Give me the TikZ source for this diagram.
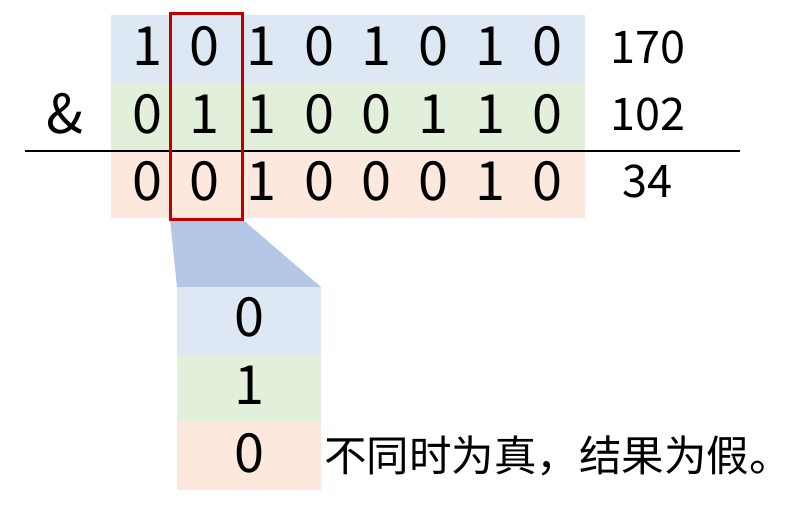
\documentclass[tikz,border=0pt]{standalone}
\usepackage{fontspec}
\newfontfamily\cjk{Noto Sans CJK SC}
\definecolor{rowblue}{HTML}{DEE8F5}
\definecolor{rowgreen}{HTML}{E2EFDA}
\definecolor{rowpink}{HTML}{FCE8DC}
\definecolor{trap}{HTML}{B4C7E7}
\definecolor{boxred}{HTML}{C00000}
\tikzset{
  big/.style={font=\cjk\fontsize{54}{54}\selectfont, anchor=base, inner sep=0pt},
  num/.style={font=\cjk\fontsize{45}{45}\selectfont, anchor=base, inner sep=0pt},
  note/.style={font=\cjk\fontsize{42.5}{42.5}\selectfont, anchor=base west, inner sep=0pt},
}
\begin{document}
\begin{tikzpicture}[x=1pt,y=-1pt]
\useasboundingbox (0,0) rectangle (796,504);
% row bands
\fill[rowblue] (111,15) rectangle (585,83);
\fill[rowgreen] (111,83) rectangle (585,150.5);
\fill[rowpink] (111,150.5) rectangle (585,218);
% trapezoid
\fill[trap] (170,219) -- (242,219) -- (321,287) -- (177,287) -- cycle;
% lower boxes
\fill[rowblue] (177,287) rectangle (321,355);
\fill[rowgreen] (177,355) rectangle (321,422);
\fill[rowpink] (177,422) rectangle (321,490);
% digits
\foreach \d [count=\i from 0] in {1,0,1,0,1,0,1,0} {
  \node[big] (a\i) at (147.5+57.2*\i,65) {\d};
}
\foreach \d [count=\i from 0] in {0,1,1,0,0,1,1,0} {
  \node[big] (b\i) at (147.5+57.2*\i,133) {\d};
}
\foreach \d [count=\i from 0] in {0,0,1,0,0,0,1,0} {
  \node[big] (c\i) at (147.5+57.2*\i,200) {\d};
}
\node[big] (amp) at (65,133) {\&};
\node[num] (n1) at (648,63) {170};
\node[num] (n2) at (648,130) {102};
\node[num] (n3) at (647,197) {34};
% rule
\draw[line width=2pt] (25,151) -- (740,151);
% red box
\draw[boxred, line width=3pt] (170,13.5) rectangle (242,219);
% lower digits
\node[big] (d0) at (249,336) {0};
\node[big] (d1) at (249,404) {1};
\node[big] (d2) at (249,472) {0};
\node[note] (txt) at (324,471) {不同时为真，结果为假。};
\end{tikzpicture}
\end{document}
